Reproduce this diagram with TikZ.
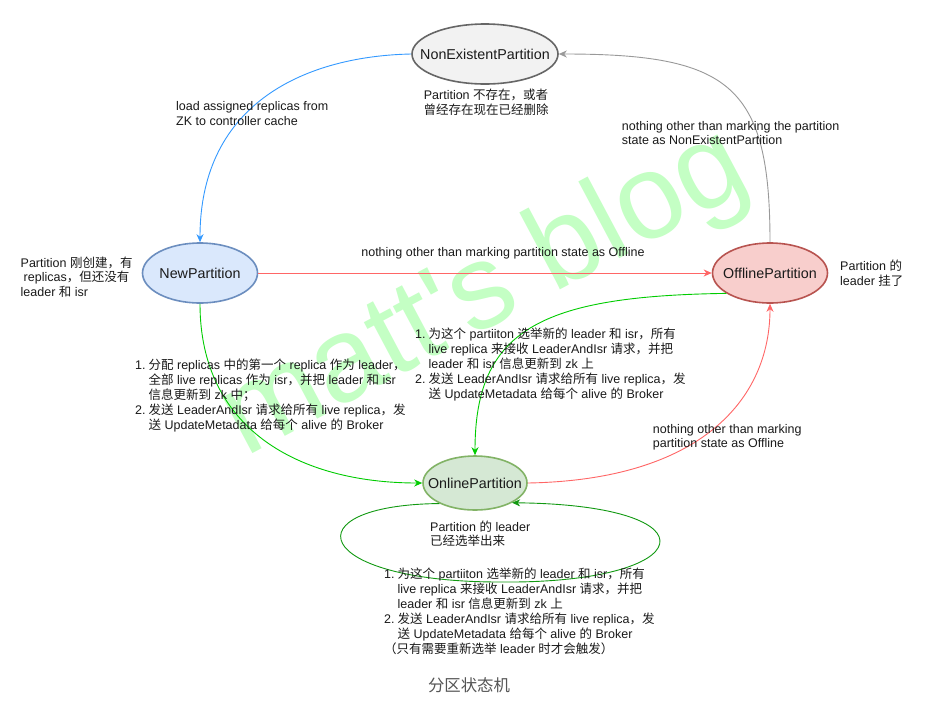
\documentclass[tikz,border=0pt]{standalone}
\usepackage{fontspec}
\setmainfont{Liberation Sans}
\newfontfamily\cjk{Noto Sans CJK SC}
\newcommand\zh[1]{{\cjk #1}}
\newcommand\straightquote{\XeTeXglyph\the\XeTeXcharglyph"27\relax}
\usetikzlibrary{shapes.geometric,arrows.meta}
\definecolor{neFill}{HTML}{F2F2F2}
\definecolor{neLine}{HTML}{666666}
\definecolor{newFill}{HTML}{DAE8FC}
\definecolor{newLine}{HTML}{6C8EBF}
\definecolor{offFill}{HTML}{F8CECC}
\definecolor{offLine}{HTML}{B85450}
\definecolor{onFill}{HTML}{D5E8D4}
\definecolor{onLine}{HTML}{82B366}
\definecolor{blueE}{HTML}{3399FF}
\definecolor{grayE}{HTML}{999999}
\definecolor{redE}{HTML}{FF6666}
\definecolor{greenE}{HTML}{00CC00}
\definecolor{loopE}{HTML}{119911}
\definecolor{wmC}{HTML}{C4FFC4}
\definecolor{capC}{HTML}{555555}
\definecolor{txt}{HTML}{1A1A1A}
\begin{document}
\begin{tikzpicture}[x=1pt,y=-1pt,
  st/.style={ellipse, draw, line width=1.6pt, minimum height=60pt, inner sep=0pt, text=txt,
    font=\fontsize{14.3}{16}\selectfont},
  lbl/.style={inner sep=0pt, anchor=base west, text=txt, font=\fontsize{12.5}{14.5}\selectfont},
  clbl/.style={lbl, anchor=base},
  conn/.style={line width=0.9pt, -{Stealth[length=8pt,width=7pt,inset=2.5pt]}}
]
\useasboundingbox (0,0) rectangle (936,702);
\fill[white] (0,0) rectangle (936,702);

% watermark
\node[inner sep=0pt, rotate=28, text=wmC, font=\fontsize{120}{120}\selectfont] (wm) at (485,295) {matt\straightquote s blog};

% states
\node[st, fill=neFill, draw=neLine, minimum width=146pt] (ne) at (485,54) {\makebox[0pt]{NonExistentPartition}};
\node[st, fill=newFill, draw=newLine, minimum width=115pt] (nw) at (200,273) {\makebox[0pt]{NewPartition}};
\node[st, fill=offFill, draw=offLine, minimum width=115pt] (off) at (770,273) {\makebox[0pt]{OfflinePartition}};
\node[st, fill=onFill, draw=onLine, minimum width=104pt, minimum height=54pt] (on) at (475,483) {\makebox[0pt]{OnlinePartition}};

% connectors
\draw[conn, blueE] (ne.west) .. controls (310,56) and (200,100) .. (nw.north);
\draw[conn, grayE] (off.north) .. controls (770,85) and (730,54) .. (ne.east);
\draw[conn, redE] (nw.east) -- (off.west);
\draw[conn, greenE] (nw.south) .. controls (200,430) and (300,483) .. (on.west);
\draw[conn, greenE] (off.205) .. controls (540,296) and (475,330) .. (on.north);
\draw[conn, redE] (on.east) .. controls (700,480) and (770,400) .. (off.south);
\coordinate (lp) at (500,582);
\draw[conn, loopE] (on.210) .. controls (290,505) and (310,582) .. (lp) .. controls (700,584) and (720,505) .. (on.332);

% labels
\node[lbl] (l1) at (176,110.5) {\begin{tabular}[t]{@{}l@{}}load assigned replicas from\\ZK to controller cache\end{tabular}};
\node[clbl] (l2) at (486,99.5) {\begin{tabular}[t]{@{}c@{}}Partition \zh{不存在，或者}\\\zh{曾经存在现在已经删除}\end{tabular}};
\node[lbl] (l3) at (621.7,130) {\begin{tabular}[t]{@{}l@{}}nothing other than marking the partition\\state as NonExistentPartition\end{tabular}};
\node[lbl] (l4) at (20.5,267) {\begin{tabular}[t]{@{}l@{}}Partition \zh{刚创建，有}\\\hspace{3pt}replicas\zh{，但还没有}\\leader \zh{和} isr\end{tabular}};
\node[clbl] (l5) at (503,256) {nothing other than marking partition state as Offline};
\node[lbl] (l6) at (840,270.5) {\begin{tabular}[t]{@{}l@{}}Partition \zh{的}\\leader \zh{挂了}\end{tabular}};
\node[lbl] (l7) at (135,369.5) {\begin{tabular}[t]{@{}r@{\hspace{3pt}}l@{}}
1. & \zh{分配} replicas \zh{中的第一个} replica \zh{作为} leader\zh{，}\\
   & \zh{全部} live replicas \zh{作为} isr\zh{，并把} leader \zh{和} isr\\
   & \zh{信息更新到} zk \zh{中；}\\
2. & \zh{发送} LeaderAndIsr \zh{请求给所有} live replica\zh{，发}\\
   & \zh{送} UpdateMetadata \zh{给每个} alive \zh{的} Broker
\end{tabular}};
\node[lbl] (l8) at (415,338.5) {\begin{tabular}[t]{@{}r@{\hspace{3pt}}l@{}}
1. & \zh{为这个} partiiton \zh{选举新的} leader \zh{和} isr\zh{，所有}\\
   & live replica \zh{来接收} LeaderAndIsr \zh{请求，并把}\\
   & leader \zh{和} isr \zh{信息更新到} zk \zh{上}\\
2. & \zh{发送} LeaderAndIsr \zh{请求给所有} live replica\zh{，发}\\
   & \zh{送} UpdateMetadata \zh{给每个} alive \zh{的} Broker
\end{tabular}};
\node[lbl] (l9) at (652.7,433) {\begin{tabular}[t]{@{}l@{}}nothing other than marking\\partition state as Offline\end{tabular}};
\node[lbl] (l10) at (430,531) {\begin{tabular}[t]{@{}l@{}}Partition \zh{的} leader\\\zh{已经选举出来}\end{tabular}};
\node[lbl] (l11) at (384,578.5) {\begin{tabular}[t]{@{}r@{\hspace{3pt}}l@{}}
1. & \zh{为这个} partiiton \zh{选举新的} leader \zh{和} isr\zh{，所有}\\
   & live replica \zh{来接收} LeaderAndIsr \zh{请求，并把}\\
   & leader \zh{和} isr \zh{信息更新到} zk \zh{上}\\
2. & \zh{发送} LeaderAndIsr \zh{请求给所有} live replica\zh{，发}\\
   & \zh{送} UpdateMetadata \zh{给每个} alive \zh{的} Broker\\
\multicolumn{2}{@{}l@{}}{\zh{（只有需要重新选举} leader \zh{时才会触发）}}
\end{tabular}};
\node[inner sep=0pt, anchor=base, text=capC, font=\cjk\fontsize{16.4}{18}\selectfont] (cap) at (469,691) {分区状态机};
\end{tikzpicture}
\end{document}
